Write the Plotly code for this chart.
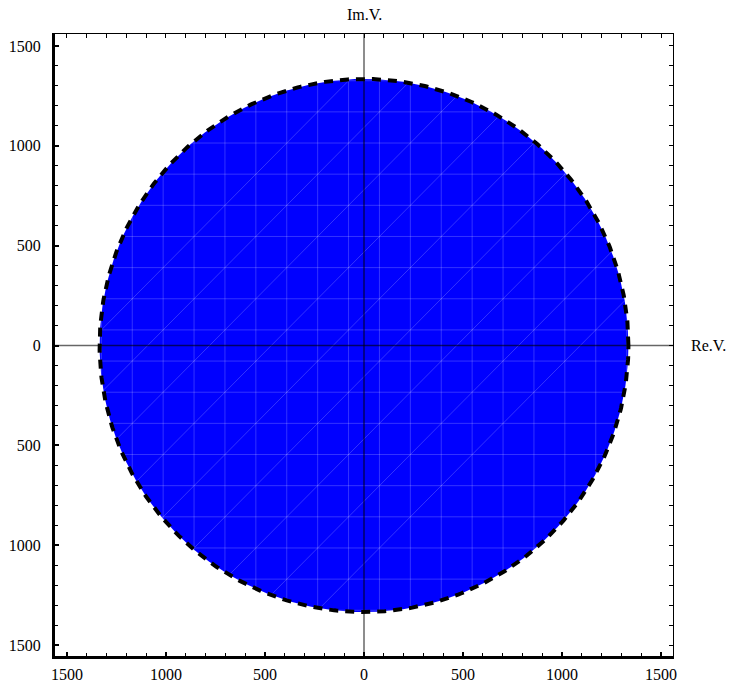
import numpy as np
import plotly.graph_objects as go

# Admissible region |V| <= R in the complex voltage plane
REGION_RADIUS = 1335
BOUNDARY_RADIUS = 1335
X_RANGE = [-1560, 1560]
Y_RANGE = [-1555, 1560]
TICK_VALUES = [-1500, -1000, -500, 0, 500, 1000, 1500]
TICK_LABELS = ["1500", "1000", "500", "0", "500", "1000", "1500"]
X_LABEL = "Re.V."
Y_LABEL = "Im.V."

FONT = dict(family="Liberation Serif, Times New Roman, serif", size=16, color="black")

theta = np.linspace(0.0, 2.0 * np.pi, 721)

fig = go.Figure()

# filled region
fig.add_trace(go.Scatter(
    x=REGION_RADIUS * np.cos(theta), y=REGION_RADIUS * np.sin(theta),
    mode="lines", fill="toself", fillcolor="rgb(0,0,255)",
    line=dict(width=0, color="rgb(0,0,255)"), hoverinfo="skip", showlegend=False,
))

# faint sampling mesh inside the region (horizontal, vertical and diagonal chords)
R = REGION_RADIUS
mx, my = [], []
step = 156.0
offsets = np.arange(-78 - 8 * step, 78 + 8 * step + 1, step)
for c in offsets:
    if abs(c) < R:
        h = np.sqrt(R * R - c * c)
        mx += [-h, h, None]; my += [c, c, None]
        mx += [c, c, None]; my += [-h, h, None]
for c in np.arange(156 - 4 * 2 * step, 156 + 4 * 2 * step + 1, 2 * step):
    d = 2 * R * R - c * c
    if d > 0:
        x1 = (-c - np.sqrt(d)) / 2
        x2 = (-c + np.sqrt(d)) / 2
        mx += [x1, x2, None]; my += [x1 + c, x2 + c, None]
fig.add_trace(go.Scatter(
    x=mx, y=my, mode="lines", line=dict(color="rgba(255,255,255,0.2)", width=1),
    hoverinfo="skip", showlegend=False,
))

# coordinate axes through the origin
for shp in [
    dict(x0=0, x1=0, y0=Y_RANGE[0], y1=Y_RANGE[1]),
    dict(x0=X_RANGE[0], x1=X_RANGE[1], y0=0, y1=0),
]:
    fig.add_shape(type="line", xref="x", yref="y", layer="above",
                  line=dict(color="rgba(0,0,0,0.6)", width=1.5), **shp)

# dashed boundary |V| = R
fig.add_trace(go.Scatter(
    x=BOUNDARY_RADIUS * np.cos(theta), y=BOUNDARY_RADIUS * np.sin(theta),
    mode="lines", line=dict(color="black", width=4, dash="9px,7px"),
    hoverinfo="skip", showlegend=False,
))

# helper trace so the top/right frame axes are drawn
fig.add_trace(go.Scatter(x=[0], y=[0], xaxis="x2", yaxis="y2", mode="markers",
                         marker=dict(size=1, opacity=0), hoverinfo="skip", showlegend=False))

common = dict(ticks="inside", showgrid=False, zeroline=False, linecolor="black",
              tickcolor="black", tickfont=FONT, automargin=False)

fig.update_layout(
    width=739, height=685,
    margin=dict(l=55, r=66, t=34, b=29, autoexpand=False),
    paper_bgcolor="white", plot_bgcolor="white",
    showlegend=False,
    xaxis=dict(range=X_RANGE, tickvals=TICK_VALUES, ticktext=TICK_LABELS,
               showline=True, linewidth=3, ticklen=4, tickwidth=2, ticklabelstandoff=2,
               minor=dict(dtick=100, ticks="inside", ticklen=3, tickwidth=1, tickcolor="black"),
               **common),
    yaxis=dict(range=Y_RANGE, tickvals=TICK_VALUES, ticktext=TICK_LABELS,
               showline=True, linewidth=3, ticklen=4, tickwidth=2, ticklabelstandoff=8,
               minor=dict(dtick=100, ticks="inside", ticklen=3, tickwidth=1, tickcolor="black"),
               **common),
    xaxis2=dict(range=X_RANGE, overlaying="x", side="top", showticklabels=False,
                tickvals=TICK_VALUES, showline=True, linewidth=1, ticklen=4, tickwidth=1,
                minor=dict(dtick=100, ticks="inside", ticklen=4, tickwidth=1, tickcolor="black"),
                **common),
    yaxis2=dict(range=Y_RANGE, overlaying="y", side="right", showticklabels=False,
                tickvals=TICK_VALUES, showline=True, linewidth=1, ticklen=4, tickwidth=1,
                minor=dict(dtick=100, ticks="inside", ticklen=4, tickwidth=1, tickcolor="black"),
                **common),
    annotations=[
        dict(text=Y_LABEL, x=0, y=1, xref="x", yref="paper", yshift=20,
             showarrow=False, xanchor="center", yanchor="middle", font=FONT),
        dict(text=X_LABEL, x=1, y=0, xref="paper", yref="y", xshift=16,
             showarrow=False, xanchor="left", yanchor="middle", font=FONT),
    ],
)

fig.write_html("out.html")
